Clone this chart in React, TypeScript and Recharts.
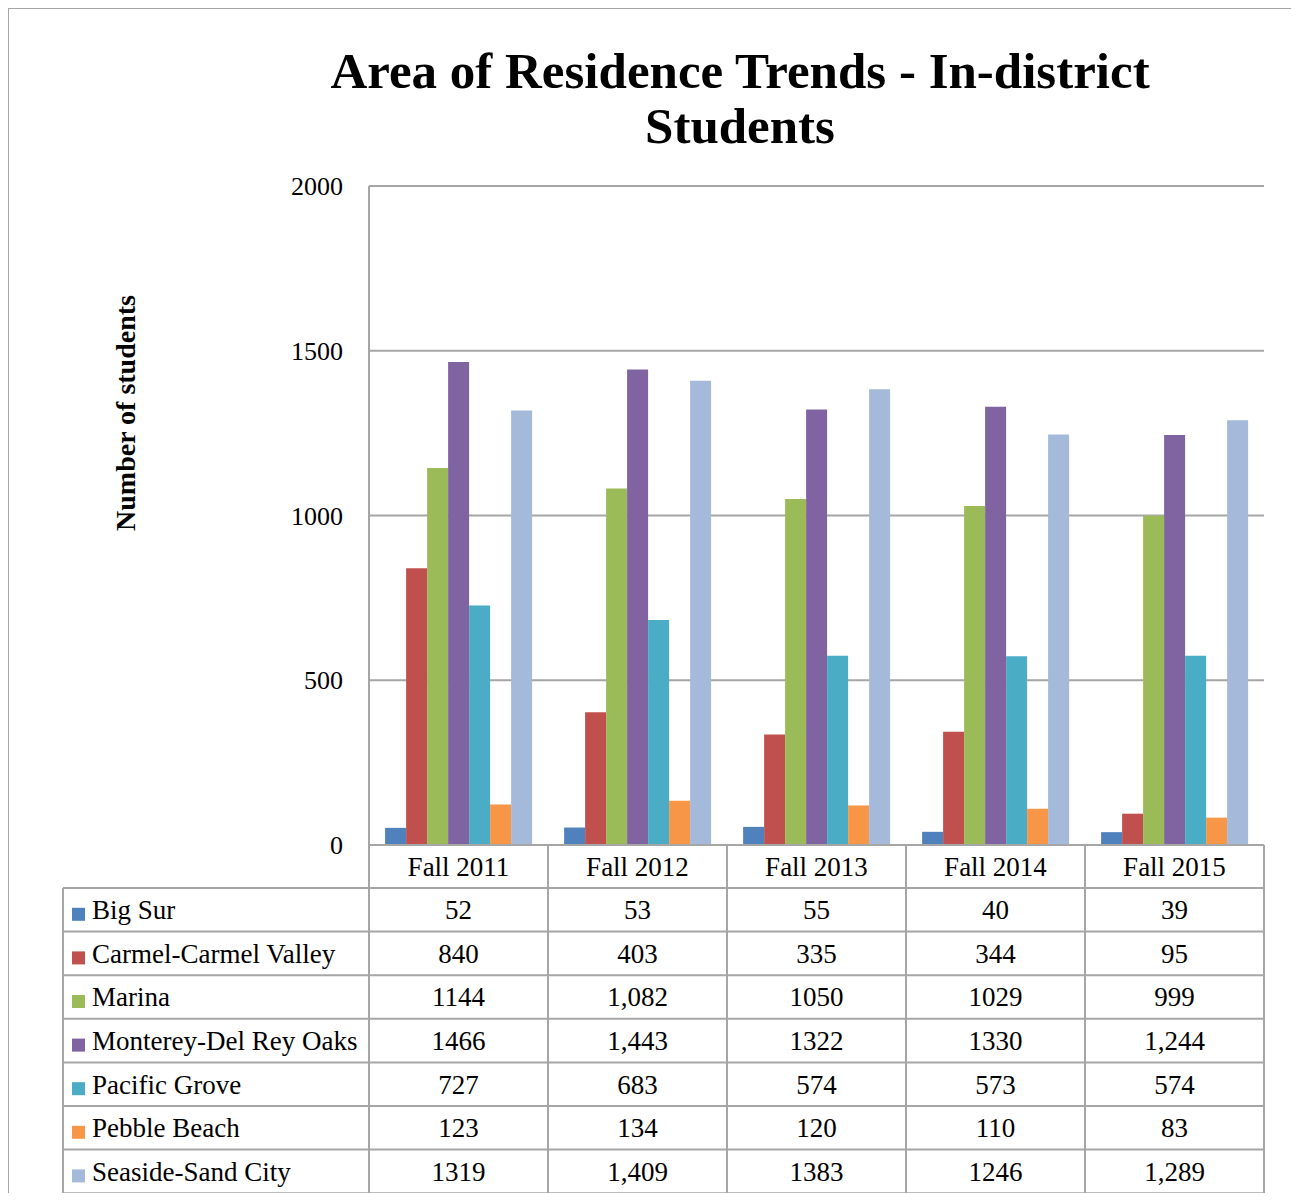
import { Bar, BarChart, CartesianGrid, XAxis, YAxis } from 'recharts';

const periods = ['Fall 2011', 'Fall 2012', 'Fall 2013', 'Fall 2014', 'Fall 2015'];
// columns whose numbers are printed with a thousands separator in the table
const commaColumns = [false, true, false, false, true];

const bigSur = [52, 53, 55, 40, 39];
const carmel = [840, 403, 335, 344, 95];
const marina = [1144, 1082, 1050, 1029, 999];
const monterey = [1466, 1443, 1322, 1330, 1244];
const pacificGrove = [727, 683, 574, 573, 574];
const pebbleBeach = [123, 134, 120, 110, 83];
const seaside = [1319, 1409, 1383, 1246, 1289];

const yTicks = [0, 500, 1000, 1500, 2000];

const series = [
  { key: 'bigSur', name: 'Big Sur', values: bigSur, color: '#4F81BD' },
  { key: 'carmel', name: 'Carmel-Carmel Valley', values: carmel, color: '#C0504D' },
  { key: 'marina', name: 'Marina', values: marina, color: '#9BBB59' },
  { key: 'monterey', name: 'Monterey-Del Rey Oaks', values: monterey, color: '#8064A2' },
  { key: 'pacificGrove', name: 'Pacific Grove', values: pacificGrove, color: '#4BACC6' },
  { key: 'pebbleBeach', name: 'Pebble Beach', values: pebbleBeach, color: '#F79646' },
  { key: 'seaside', name: 'Seaside-Sand City', values: seaside, color: '#A5B9DB' },
];

const FONT = '"Liberation Serif", serif';
const LINE = '#a6a6a6';
const W = 1291;
const H = 1193;
const PLOT_LEFT = 361;
const PLOT_RIGHT = 1256;
const PLOT_TOP = 178;
const PLOT_BOTTOM = 837;
const BAND = (PLOT_RIGHT - PLOT_LEFT) / periods.length;
const HEADER_H = 43;
const ROW_H = 43.6;
const TABLE_LEFT = 55;
const CELL_FONT = 27;

const data = periods.map((p, i) => {
  const row: Record<string, string | number> = { period: p };
  series.forEach((s) => {
    row[s.key] = s.values[i];
  });
  return row;
});

function fmt(v: number, comma: boolean) {
  return comma ? v.toLocaleString('en-US') : String(v);
}

function TableColumn(props: any) {
  const { x, payload } = props;
  const i = payload.index;
  const top = PLOT_BOTTOM;
  const rowsTop = top + HEADER_H;
  const left = x - BAND / 2;
  const right = x + BAND / 2;
  const bottom = rowsTop + ROW_H * series.length;
  return (
    <g>
      <line x1={right} y1={top} x2={right} y2={bottom} stroke={LINE} strokeWidth={2} />
      {i === 0 && (
        <g>
          <line x1={left} y1={top} x2={left} y2={bottom} stroke={LINE} strokeWidth={2} />
          <line x1={TABLE_LEFT} y1={rowsTop} x2={TABLE_LEFT} y2={bottom} stroke={LINE} strokeWidth={2} />
          {series.map((s, k) => {
            const cy = rowsTop + ROW_H * (k + 0.5);
            return (
              <g key={s.key}>
                <line x1={TABLE_LEFT} y1={rowsTop + ROW_H * k} x2={left} y2={rowsTop + ROW_H * k} stroke={LINE} strokeWidth={2} />
                <rect x={TABLE_LEFT + 9} y={cy - 2} width={13} height={13} fill={s.color} />
                <text x={TABLE_LEFT + 29} y={cy} dy="0.35em" fontSize={CELL_FONT} fontFamily={FONT} fill="#000">
                  {s.name}
                </text>
              </g>
            );
          })}
          <line x1={TABLE_LEFT} y1={bottom} x2={left} y2={bottom} stroke={LINE} strokeWidth={2} />
        </g>
      )}
      <text x={x} y={top + HEADER_H / 2} dy="0.35em" textAnchor="middle" fontSize={CELL_FONT} fontFamily={FONT} fill="#000">
        {payload.value}
      </text>
      {series.map((s, k) => {
        const cy = rowsTop + ROW_H * (k + 0.5);
        return (
          <g key={s.key}>
            <line x1={left} y1={rowsTop + ROW_H * k} x2={right} y2={rowsTop + ROW_H * k} stroke={LINE} strokeWidth={2} />
            <text x={x} y={cy} dy="0.35em" textAnchor="middle" fontSize={CELL_FONT} fontFamily={FONT} fill="#000">
              {fmt(s.values[i], commaColumns[i])}
            </text>
          </g>
        );
      })}
      <line x1={left} y1={bottom} x2={right} y2={bottom} stroke={LINE} strokeWidth={2} />
    </g>
  );
}

export default function App() {
  return (
    <div style={{ position: 'relative', width: W, height: H, marginBottom: -8, fontFamily: FONT }}>
      <div
        style={{
          position: 'absolute',
          left: -1,
          top: -1,
          width: W - 1,
          height: H + 1,
          border: `2px solid ${LINE}`,
          borderBottom: 'none',
          boxSizing: 'border-box',
        }}
      />
      <BarChart
        width={W}
        height={H}
        data={data}
        margin={{ top: PLOT_TOP, right: W - PLOT_RIGHT, left: PLOT_LEFT - 60, bottom: 16 }}
        barCategoryGap="9%"
        barGap={0}
        style={{ position: 'absolute', left: 0, top: 0 }}
      >
        <text x={732} y={80} textAnchor="middle" fontSize={51} fontWeight="bold" fontFamily={FONT} fill="#000">
          Area of Residence Trends - In-district
        </text>
        <text x={732} y={135} textAnchor="middle" fontSize={51} fontWeight="bold" fontFamily={FONT} fill="#000">
          Students
        </text>
        <text
          x={117}
          y={405}
          transform="rotate(-90 117 405)"
          textAnchor="middle"
          dy="0.35em"
          fontSize={28}
          fontWeight="bold"
          fontFamily={FONT}
          fill="#000"
        >
          Number of students
        </text>
        <CartesianGrid vertical={false} stroke={LINE} strokeWidth={2} />
        <XAxis
          dataKey="period"
          height={H - 16 - PLOT_BOTTOM}
          tickLine={false}
          tickSize={0}
          tickMargin={0}
          axisLine={{ stroke: LINE, strokeWidth: 2 }}
          tick={<TableColumn />}
          interval={0}
        />
        <YAxis
          width={60}
          domain={[0, 2000]}
          ticks={yTicks}
          tickLine={false}
          tickSize={0}
          tickMargin={26}
          axisLine={{ stroke: LINE, strokeWidth: 2 }}
          tick={{ fontSize: 26, fill: '#000', fontFamily: FONT }}
        />
        {series.map((s) => (
          <Bar key={s.key} dataKey={s.key} name={s.name} fill={s.color} isAnimationActive={false} />
        ))}
      </BarChart>
    </div>
  );
}
